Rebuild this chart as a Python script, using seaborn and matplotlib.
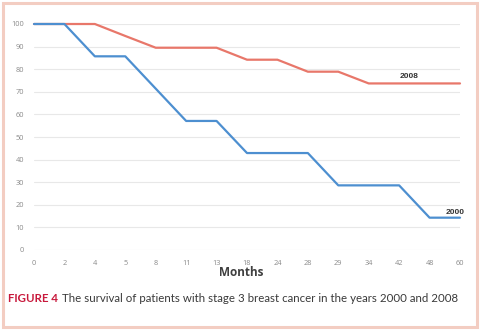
import numpy as np
import pandas as pd
import matplotlib
matplotlib.use("Agg")
import matplotlib.pyplot as plt
import seaborn as sns
from matplotlib.patches import Rectangle

# Follow-up months (categorical axis) and survival percentages
months = ["0", "2", "4", "5", "8", "11", "13", "18", "24", "28", "29", "34", "42", "48", "60"]
survival_2008 = [100, 100, 100, 94.7, 89.5, 89.5, 89.5, 84.2, 84.2, 78.9, 78.9, 73.7, 73.7, 73.7, 73.7]
survival_2000 = [100, 100, 85.7, 85.7, 71.4, 57.1, 57.1, 42.9, 42.9, 42.9, 28.6, 28.6, 28.6, 14.3, 14.3]
y_ticks = [0, 10, 20, 30, 40, 50, 60, 70, 80, 90, 100]

RED = "#E8776A"
BLUE = "#4D8FD0"

sns.set_theme(style="white")
plt.rcParams["font.family"] = ["Open Sans", "DejaVu Sans"]

fig = plt.figure(figsize=(4.8, 3.3), dpi=100)
fig.patch.set_facecolor("white")

# pale salmon frame around the whole figure
fig.add_artist(Rectangle((0.006, 0.008), 0.988, 0.984, transform=fig.transFigure,
                         fill=False, edgecolor="#F3CDC2", linewidth=2.2))

ax = fig.add_axes([34 / 480, 1 - 250 / 330, (460 - 34) / 480, (250 - 24) / 330])

df = pd.DataFrame({
    "pos": list(range(len(months))) * 2,
    "survival": survival_2008 + survival_2000,
    "year": ["2008"] * len(months) + ["2000"] * len(months),
})
sns.lineplot(data=df, x="pos", y="survival", hue="year",
             palette={"2008": RED, "2000": BLUE}, linewidth=1.6,
             legend=False, ax=ax)
for line in ax.lines:
    line.set_clip_on(False)
    line.set_zorder(3)

ax.set_xlim(0, len(months) - 1)
ax.set_ylim(0, 100)
ax.set_xticks(range(len(months)))
ax.set_xticklabels(months)
ax.set_yticks(y_ticks)
ax.set_yticklabels([str(v) for v in y_ticks])
ax.tick_params(axis="both", length=0, labelsize=5.3, colors="#8A8A8A")
ax.tick_params(axis="x", pad=7)
ax.tick_params(axis="y", pad=7)
ax.grid(axis="y", color="#E8E8E8", linewidth=0.8)
ax.set_axisbelow(True)
for s in ax.spines.values():
    s.set_visible(False)
ax.set_xlabel("")
ax.set_ylabel("")

# series labels
ax.text(12.33, survival_2008[12] + 1.3, "2008", fontsize=6, fontweight="bold",
        color="#333333", ha="center", va="bottom", family=["Liberation Sans", "DejaVu Sans"])
ax.text(13.85, survival_2000[13] + 0.9, "2000", fontsize=6, fontweight="bold",
        color="#333333", ha="center", va="bottom", family=["Liberation Sans", "DejaVu Sans"])

fig.text(241 / 480, 1 - 272 / 330, "Months", fontsize=8.5, fontweight="bold",
         color="#404040", ha="center", va="center")

# caption
cap_y = 1 - 298 / 330
t1 = fig.text(8 / 480, cap_y, "FIGURE 4", fontsize=8.3, fontweight="bold",
              color="#C8193C", ha="left", va="center", family=["Lato", "DejaVu Sans"])
fig.canvas.draw()
bb = t1.get_window_extent()
x_next = bb.x1 / fig.bbox.width + 4 / 480
fig.text(x_next, cap_y, "The survival of patients with stage 3 breast cancer in the years 2000 and 2008",
         fontsize=8.3, color="#3A3A3A", ha="left", va="center", family=["Lato", "DejaVu Sans"])

fig.savefig("out.png", dpi=100)
